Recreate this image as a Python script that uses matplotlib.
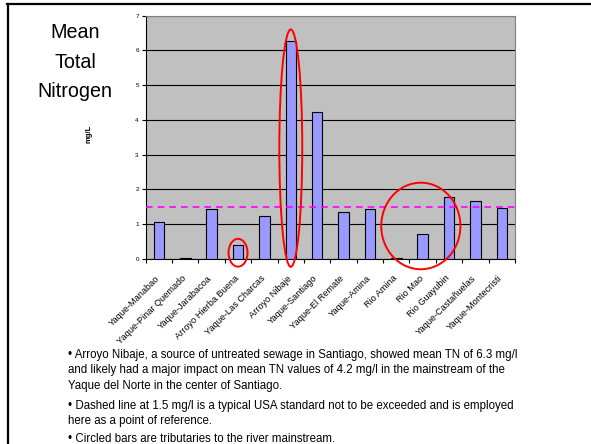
import matplotlib.pyplot as plt
from matplotlib.patches import Ellipse
import numpy as np

plt.rcParams["font.family"] = ["Liberation Sans", "DejaVu Sans"]

SITES = [
    "Yaque-Manabao", "Yaque-Pinar Quemado", "Yaque-Jarabacoa",
    "Arroyo Hierba Buena", "Yaque-Las Charcas", "Arroyo Nibaje",
    "Yaque-Santiago", "Yaque-El Remate", "Yaque-Amina", "Rio Amina",
    "Rio Mao", "Rio Guayubin", "Yaque-Castañuelas", "Yaque-Montecristi",
]
MEAN_TN = [1.07, 0.03, 1.45, 0.40, 1.23, 6.28, 4.24,
           1.35, 1.45, 0.02, 0.72, 1.77, 1.67, 1.47]
STANDARD = 1.5

NOTES = [
    "• Arroyo Nibaje, a source of untreated sewage in Santiago, showed mean TN of 6.3 mg/l\n"
    "and likely had a major impact on mean TN values of 4.2 mg/l in the mainstream of the\n"
    "Yaque del Norte in the center of Santiago.",
    "• Dashed line at 1.5 mg/l is a typical USA standard not to be exceeded and is employed\n"
    "here as a point of reference.",
    "• Circled bars are tributaries to the river mainstream.",
]

W, H = 591, 444
fig = plt.figure(figsize=(W / 100, H / 100), dpi=100)

# slide frame
fig.add_artist(plt.Line2D([7 / W, 1], [1 - 4 / H, 1 - 4 / H], color="black", lw=1.6))
fig.add_artist(plt.Line2D([8 / W, 8 / W], [0, 1 - 4 / H], color="black", lw=1.6))

ax = fig.add_axes([145.7 / W, 1 - 259 / H, (515 - 145.7) / W, (259 - 15.7) / H])
ax.set_facecolor("#C0C0C0")
x = np.arange(len(SITES))
ax.bar(x, MEAN_TN, width=0.4, color="#9999FF", edgecolor="black", linewidth=0.8, zorder=3)
ax.set_xlim(-0.5, len(SITES) - 0.5)
ax.set_ylim(0, 7)
ax.set_yticks(range(8))
ax.yaxis.grid(True, color="black", linewidth=0.8, zorder=0)
ax.set_axisbelow(True)
ax.axhline(STANDARD, color="#FF00FF", linestyle=(0, (4, 3)), linewidth=1.2, zorder=4)

for s in ["top", "right"]:
    ax.spines[s].set_color("#808080")
ax.spines["left"].set_color("black")
ax.spines["bottom"].set_color("black")

ax.tick_params(axis="y", labelsize=4.5, length=3, width=0.8, pad=2)
ax.set_xticks(np.arange(len(SITES) + 1) - 0.5, minor=False)
ax.set_xticklabels([])
ax.tick_params(axis="x", direction="out", length=3, width=0.8)
for i, name in enumerate(SITES):
    ax.text(i - 0.15, -0.42, name, rotation=45, ha="right", va="top",
            rotation_mode="anchor", fontsize=6.6, transform=ax.transData)

# circled tributaries
for cx, cy, w, h in [(3, 0.18, 0.72, 0.8), (5, 3.19, 0.87, 6.83), (9.93, 0.95, 3.0, 2.49)]:
    ax.add_patch(Ellipse((cx, cy), w, h, fill=False, edgecolor="red",
                         linewidth=1.4, clip_on=False, zorder=5))

fig.text(75 / W, 1 - 62 / H, "Mean\nTotal\nNitrogen", ha="center", va="center",
         fontsize=14.2, linespacing=1.72)
fig.text(89 / W, 1 - 134 / H, "mg/L", rotation=90, ha="center", va="center",
         fontsize=5.5, fontweight="bold")

y = 1 - 349 / H
for note, gap in zip(NOTES, [51, 33, 0]):
    fig.text(68 / W, y, note, ha="left", va="top", fontsize=8.3, linespacing=1.38)
    y -= gap / H

fig.savefig("out.png", dpi=100)
